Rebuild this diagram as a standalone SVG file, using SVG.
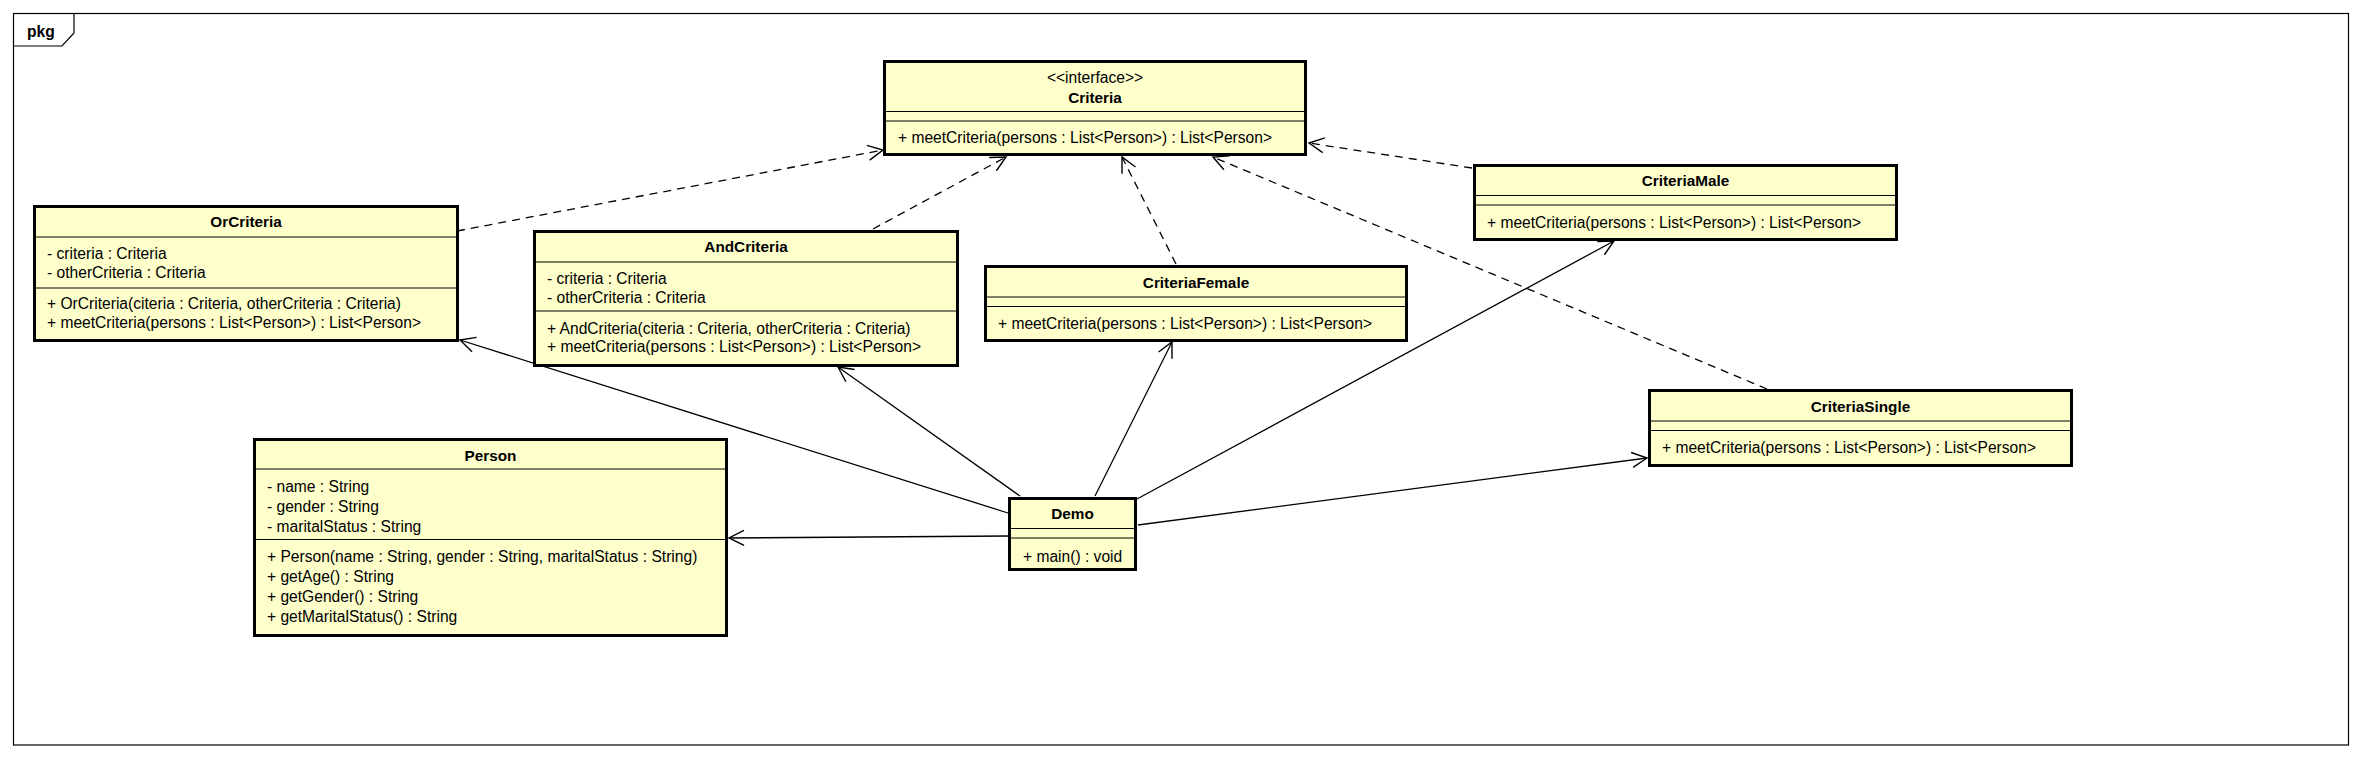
<svg xmlns="http://www.w3.org/2000/svg" width="2365" height="758" viewBox="0 0 2365 758">
<style>
.box{fill:#ffffcc;stroke:#000;stroke-width:3}
.sep{stroke:#000;stroke-width:1.2}
.t{font-family:"Liberation Sans",Arial,sans-serif;font-size:15.6px;fill:#000}
.b{font-weight:bold;text-anchor:middle;font-size:15.3px}
.c{text-anchor:middle}
.dash{fill:none;stroke:#000;stroke-width:1.3;stroke-dasharray:8,6;marker-end:url(#arr)}
.solid{fill:none;stroke:#000;stroke-width:1.3;marker-end:url(#arr)}
</style>
<defs>
<marker id="arr" markerUnits="userSpaceOnUse" markerWidth="24" markerHeight="24" viewBox="-18 -12 24 24" refX="0" refY="0" orient="auto">
<path d="M-15,-7.5 L0,0 L-15,7.5" fill="none" stroke="#000" stroke-width="1.4" stroke-dasharray="none"/>
</marker>
</defs>
<rect width="2365" height="758" fill="#fff"/>
<g id="frame">
<rect x="13.5" y="13.5" width="2335" height="731.5" fill="none" stroke="#000" stroke-width="1.2"/>
<path d="M13.5,46 L62,46 L74,33 L74,13.5" fill="none" stroke="#000" stroke-width="1.2"/>
<text class="t" x="27" y="37" font-weight="bold" font-size="16">pkg</text>
</g>
<g id="connectors">
<line class="dash" x1="457" y1="231" x2="883" y2="150"/>
<line class="dash" x1="873" y1="229" x2="1006" y2="157"/>
<line class="dash" x1="1176" y1="264" x2="1122" y2="157"/>
<line class="dash" x1="1472" y1="168" x2="1309" y2="143"/>
<line class="dash" x1="1767" y1="389" x2="1213" y2="157"/>
<line class="solid" x1="1008" y1="513" x2="460" y2="340"/>
<line class="solid" x1="1020" y1="496" x2="838" y2="367"/>
<line class="solid" x1="1095" y1="496" x2="1172" y2="342"/>
<line class="solid" x1="1137" y1="499" x2="1614" y2="241"/>
<line class="solid" x1="1138" y1="525" x2="1647" y2="458"/>
<line class="solid" x1="1008" y1="536" x2="729" y2="538"/>
</g>
<g id="Criteria">
<rect class="box" x="884.5" y="61.5" width="421" height="93"/>
<line class="sep" x1="884.5" y1="111.5" x2="1305.5" y2="111.5"/>
<line class="sep" x1="884.5" y1="121" x2="1305.5" y2="121"/>
<text class="t c" x="1095" y="83">&lt;&lt;interface&gt;&gt;</text>
<text class="t b" x="1095" y="103">Criteria</text>
<text class="t" x="898" y="143">+ meetCriteria(persons : List&lt;Person&gt;) : List&lt;Person&gt;</text>
</g>
<g id="OrCriteria">
<rect class="box" x="34.5" y="206.5" width="423" height="134"/>
<line class="sep" x1="34.5" y1="237" x2="457.5" y2="237"/>
<line class="sep" x1="34.5" y1="288" x2="457.5" y2="288"/>
<text class="t b" x="246" y="227">OrCriteria</text>
<text class="t" x="47" y="259">- criteria : Criteria</text>
<text class="t" x="47" y="278">- otherCriteria : Criteria</text>
<text class="t" x="47" y="309">+ OrCriteria(citeria : Criteria, otherCriteria : Criteria)</text>
<text class="t" x="47" y="328">+ meetCriteria(persons : List&lt;Person&gt;) : List&lt;Person&gt;</text>
</g>
<g id="AndCriteria">
<rect class="box" x="534.5" y="231.5" width="423" height="134"/>
<line class="sep" x1="534.5" y1="262" x2="957.5" y2="262"/>
<line class="sep" x1="534.5" y1="311" x2="957.5" y2="311"/>
<text class="t b" x="746" y="252">AndCriteria</text>
<text class="t" x="547" y="283.5">- criteria : Criteria</text>
<text class="t" x="547" y="302.5">- otherCriteria : Criteria</text>
<text class="t" x="547" y="333.5">+ AndCriteria(citeria : Criteria, otherCriteria : Criteria)</text>
<text class="t" x="547" y="352">+ meetCriteria(persons : List&lt;Person&gt;) : List&lt;Person&gt;</text>
</g>
<g id="CriteriaFemale">
<rect class="box" x="985.5" y="266.5" width="421" height="74"/>
<line class="sep" x1="985.5" y1="297" x2="1406.5" y2="297"/>
<line class="sep" x1="985.5" y1="306.5" x2="1406.5" y2="306.5"/>
<text class="t b" x="1196" y="287.5">CriteriaFemale</text>
<text class="t" x="998" y="329">+ meetCriteria(persons : List&lt;Person&gt;) : List&lt;Person&gt;</text>
</g>
<g id="CriteriaMale">
<rect class="box" x="1474.5" y="165.5" width="422" height="74"/>
<line class="sep" x1="1474.5" y1="195.5" x2="1896.5" y2="195.5"/>
<line class="sep" x1="1474.5" y1="205" x2="1896.5" y2="205"/>
<text class="t b" x="1685.5" y="186">CriteriaMale</text>
<text class="t" x="1487" y="228">+ meetCriteria(persons : List&lt;Person&gt;) : List&lt;Person&gt;</text>
</g>
<g id="CriteriaSingle">
<rect class="box" x="1649.5" y="390.5" width="422" height="75"/>
<line class="sep" x1="1649.5" y1="421" x2="2071.5" y2="421"/>
<line class="sep" x1="1649.5" y1="430.5" x2="2071.5" y2="430.5"/>
<text class="t b" x="1860.5" y="412">CriteriaSingle</text>
<text class="t" x="1662" y="453">+ meetCriteria(persons : List&lt;Person&gt;) : List&lt;Person&gt;</text>
</g>
<g id="Person">
<rect class="box" x="254.5" y="439.5" width="472" height="196"/>
<line class="sep" x1="254.5" y1="469" x2="726.5" y2="469"/>
<line class="sep" x1="254.5" y1="539.5" x2="726.5" y2="539.5"/>
<text class="t b" x="490.5" y="460.5">Person</text>
<text class="t" x="267" y="492">- name : String</text>
<text class="t" x="267" y="512">- gender : String</text>
<text class="t" x="267" y="532">- maritalStatus : String</text>
<text class="t" x="267" y="562">+ Person(name : String, gender : String, maritalStatus : String)</text>
<text class="t" x="267" y="582">+ getAge() : String</text>
<text class="t" x="267" y="602">+ getGender() : String</text>
<text class="t" x="267" y="622">+ getMaritalStatus() : String</text>
</g>
<g id="Demo">
<rect class="box" x="1009.5" y="498.5" width="126" height="71"/>
<line class="sep" x1="1009.5" y1="528.5" x2="1135.5" y2="528.5"/>
<line class="sep" x1="1009.5" y1="538" x2="1135.5" y2="538"/>
<text class="t b" x="1072.5" y="519">Demo</text>
<text class="t" x="1023" y="562">+ main() : void</text>
</g>
</svg>
